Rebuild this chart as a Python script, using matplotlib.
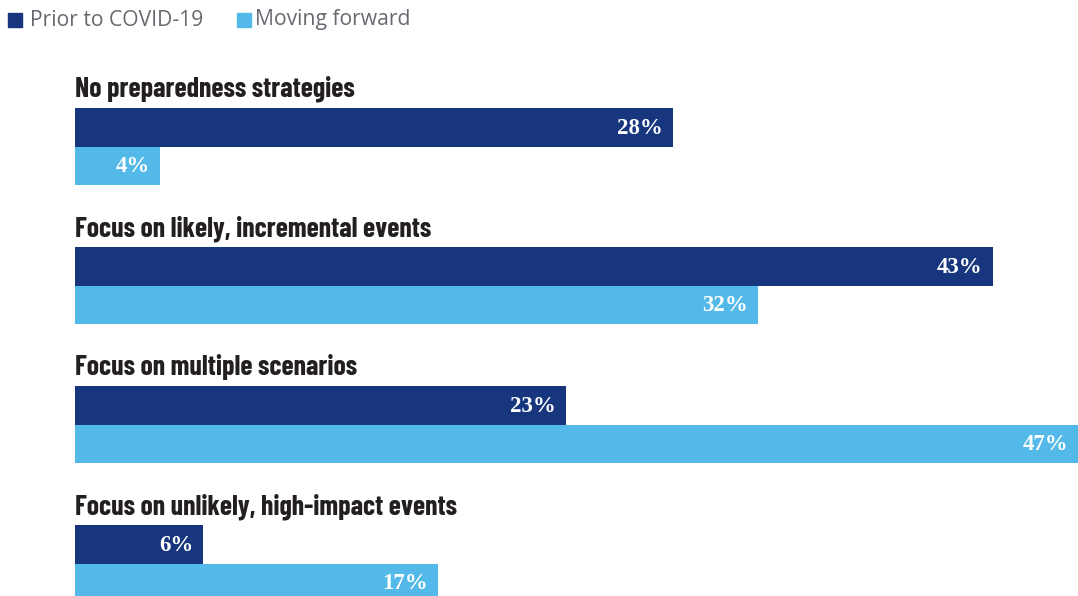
import matplotlib
matplotlib.use("Agg")
import matplotlib.pyplot as plt
from matplotlib.patches import Rectangle

categories = ["No preparedness strategies",
              "Focus on likely, incremental events",
              "Focus on multiple scenarios",
              "Focus on unlikely, high-impact events"]
prior = [28, 43, 23, 6]
moving = [4, 32, 47, 17]
series_names = ["Prior to COVID-19", "Moving forward"]

DARK = "#17367d"
LIGHT = "#53b9e8"

W, H = 1078, 596
fig = plt.figure(figsize=(W / 100, H / 100), dpi=100)
ax = fig.add_axes([0, 0, 1, 1])
k = 21.34  # px per percent
x0 = 75
ax.set_xlim(-x0 / k, (W - x0) / k)
ax.set_ylim(H, 0)
ax.axis("off")

bar_h = 38.5
start = 108
spacing = 139
title_font = ["Barlow Condensed", "Asap Condensed", "DejaVu Sans"]
for i, cat in enumerate(categories):
    top = start + i * spacing
    yd = top + bar_h / 2
    yl = top + bar_h * 1.5
    ax.barh(yd, prior[i], height=bar_h, left=0, color=DARK, linewidth=0)
    ax.barh(yl, moving[i], height=bar_h, left=0, color=LIGHT, linewidth=0)
    ax.text(0, top - 11, cat, ha="left", va="baseline", fontsize=20,
            fontweight="bold", color="#231f20", family=title_font)
    for v, y in ((prior[i], yd), (moving[i], yl)):
        ax.text(v - 10 / k, y + 1, f"{v}%", ha="right", va="center",
                fontsize=16.5, fontweight="bold", color="white",
                family=["Liberation Serif", "DejaVu Serif"])

# legend
legend_font = ["Open Sans", "DejaVu Sans"]
fig.patches.append(Rectangle((8 / W, 1 - 27 / H), 14 / W, 14 / H,
                             transform=fig.transFigure, color=DARK))
fig.text(30 / W, 1 - 20 / H, series_names[0], ha="left", va="center",
         fontsize=15.2, color="#666a70", family=legend_font)
fig.patches.append(Rectangle((237 / W, 1 - 27 / H), 14 / W, 14 / H,
                             transform=fig.transFigure, color=LIGHT))
fig.text(255 / W, 1 - 20 / H, series_names[1], ha="left", va="center",
         fontsize=15.2, color="#666a70", family=legend_font)

fig.savefig("out.png", dpi=100)
